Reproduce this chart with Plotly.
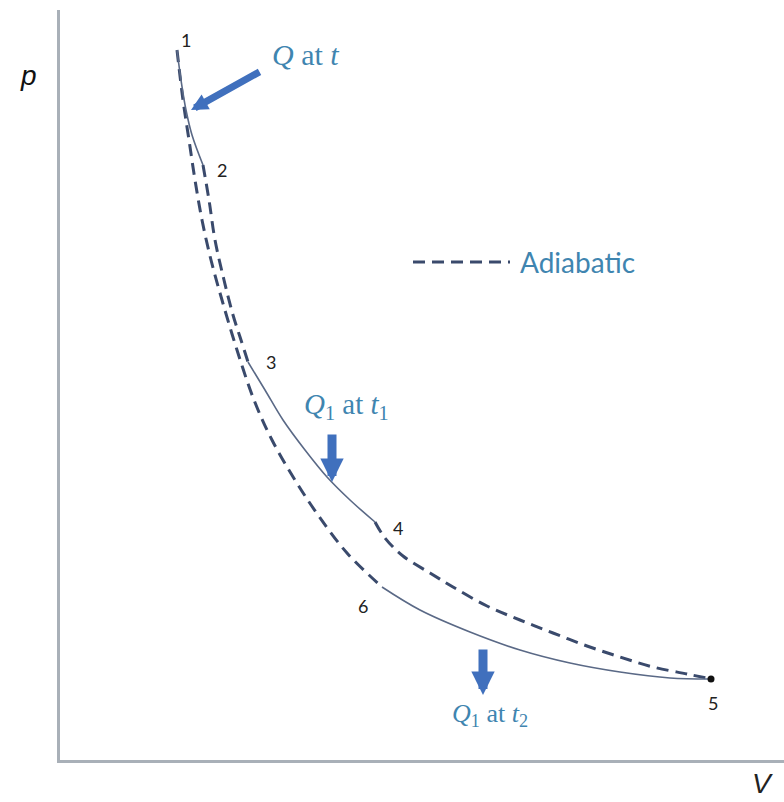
import plotly.graph_objects as go

# p-V diagram: state points and the process curves joining them
# volume V and pressure p in arbitrary units

# isothermal expansion 1 -> 2 (heat Q taken in at t)
v_12 = [1.17, 1.21, 1.26, 1.32, 1.43]
p_12 = [7.10, 6.80, 6.50, 6.25, 5.95]

# adiabat through 1, running down to 6
v_16 = [1.17, 1.23, 1.29, 1.35, 1.42, 1.51, 1.62, 1.77, 1.94, 2.12, 2.35, 2.58, 2.87, 3.22]
p_16 = [7.10, 6.60, 6.20, 5.80, 5.40, 5.00, 4.60, 4.10, 3.60, 3.20, 2.80, 2.45, 2.07, 1.73]

# adiabat 2 -> 3
v_23 = [1.43, 1.49, 1.55, 1.64, 1.73, 1.81, 1.88]
p_23 = [5.95, 5.60, 5.20, 4.80, 4.45, 4.20, 3.98]

# isotherm 3 -> 4 (Q1 at t1)
v_34 = [1.88, 2.05, 2.23, 2.45, 2.67, 2.90, 3.15]
p_34 = [3.98, 3.70, 3.40, 3.10, 2.83, 2.60, 2.38]

# adiabat 4 -> 5
v_45 = [3.15, 3.25, 3.43, 3.70, 3.93, 4.27, 4.60, 4.93, 5.27, 5.60, 5.93, 6.27, 6.51]
p_45 = [2.38, 2.22, 2.04, 1.87, 1.73, 1.54, 1.40, 1.27, 1.14, 1.03, 0.93, 0.86, 0.81]

# isotherm 6 -> 5 (Q1 at t2)
v_65 = [3.22, 3.60, 4.10, 4.60, 5.10, 5.60, 6.10, 6.51]
p_65 = [1.73, 1.50, 1.28, 1.10, 0.97, 0.88, 0.82, 0.81]

# labelled state points
state_names = ["1", "2", "3", "4", "5", "6"]
state_v = [1.17, 1.43, 1.88, 3.15, 6.51, 3.22]
state_p = [7.10, 5.95, 3.98, 2.38, 0.81, 1.73]
# label offsets (V, p) from each state point
label_dv = [0.09, 0.19, 0.23, 0.23, 0.02, -0.19]
label_dp = [0.10, -0.05, 0.00, -0.06, -0.24, -0.19]

DASH_COLOR = "#3a4a6c"
SOLID_COLOR = "#5a6986"
ARROW_COLOR = "#4070bd"
TEXT_BLUE = "#3f85b0"
DASH = "12px,7px"

fig = go.Figure()

def solid(v, p):
    fig.add_trace(go.Scatter(x=v, y=p, mode="lines", line=dict(color=SOLID_COLOR, width=1.6, shape="spline"),
                             hoverinfo="skip", showlegend=False))

def dashed(v, p):
    fig.add_trace(go.Scatter(x=v, y=p, mode="lines", line=dict(color=DASH_COLOR, width=3, dash=DASH, shape="spline"),
                             hoverinfo="skip", showlegend=False))

dashed(v_16, p_16)
dashed(v_23, p_23)
dashed(v_45, p_45)
solid(v_12, p_12)
solid(v_34, p_34)
solid(v_65, p_65)

# end point 5
fig.add_trace(go.Scatter(x=[state_v[4]], y=[state_p[4]], mode="markers",
                         marker=dict(color="#111111", size=7), hoverinfo="skip", showlegend=False))

annotations = []
for name, v, p, dv, dp in zip(state_names, state_v, state_p, label_dv, label_dp):
    annotations.append(dict(x=v + dv, y=p + dp, text=name, showarrow=False,
                            font=dict(family="Lato, Open Sans, sans-serif", size=18, color="#222222")))

# heat-flow arrows: tip, tail, shaft width, head size
arrows = [
    ((1.31, 6.50), (2.01, 6.89), 7, 0.48),
    ((2.72, 2.78), (2.72, 3.27), 9, 0.52),
    ((4.23, 0.65), (4.23, 1.12), 9, 0.52),
]
for (tx, ty), (ax, ay), w, s in arrows:
    annotations.append(dict(x=tx, y=ty, ax=ax, ay=ay, xref="x", yref="y", axref="x", ayref="y",
                            text="", showarrow=True, arrowhead=2, arrowsize=s, arrowwidth=w,
                            arrowcolor=ARROW_COLOR))

heat_font = dict(family="Liberation Serif, serif", size=30, color=TEXT_BLUE)
annotations += [
    dict(x=2.45, y=7.06, text="<i>Q</i> at <i>t</i>", showarrow=False, font=heat_font),
    dict(x=2.86, y=3.54, text="<i>Q</i><sub>1</sub> at <i>t</i><sub>1</sub>", showarrow=False,
         font=dict(family="Liberation Serif, serif", size=29, color=TEXT_BLUE)),
    dict(x=4.30, y=0.45, text="<i>Q</i><sub>1</sub> at <i>t</i><sub>2</sub>", showarrow=False,
         font=dict(family="Liberation Serif, serif", size=26, color=TEXT_BLUE)),
    dict(x=4.58, y=4.98, text="Adiabatic", xanchor="left", showarrow=False,
         font=dict(family="Lato, Open Sans, sans-serif", size=28, color=TEXT_BLUE)),
    dict(x=-0.058, y=0.936, xref="paper", yref="paper", text="<i>p</i>", showarrow=False,
         font=dict(family="Liberation Sans, Arial, sans-serif", size=28, color="#111111")),
    dict(x=0.988, y=-0.055, xref="paper", yref="paper", text="<i>V</i>", showarrow=False,
         font=dict(family="Liberation Sans, Arial, sans-serif", size=28, color="#222222")),
]

fig.update_layout(
    width=784, height=802,
    margin=dict(l=60, r=0, t=10, b=42),
    paper_bgcolor="white", plot_bgcolor="white",
    annotations=annotations,
    shapes=[dict(type="line", xref="x", yref="y", x0=3.53, x1=4.50, y0=4.98, y1=4.98,
                 line=dict(color=DASH_COLOR, width=3, dash=DASH))],
    xaxis=dict(range=[0, 7.24], showgrid=False, zeroline=False, showticklabels=False, ticks="",
               showline=True, linecolor="#a9b0b8", linewidth=2.5, fixedrange=True),
    yaxis=dict(range=[0, 7.5], showgrid=False, zeroline=False, showticklabels=False, ticks="",
               showline=True, linecolor="#a9b0b8", linewidth=2.5, fixedrange=True),
    showlegend=False,
)

fig.write_html("out.html")
